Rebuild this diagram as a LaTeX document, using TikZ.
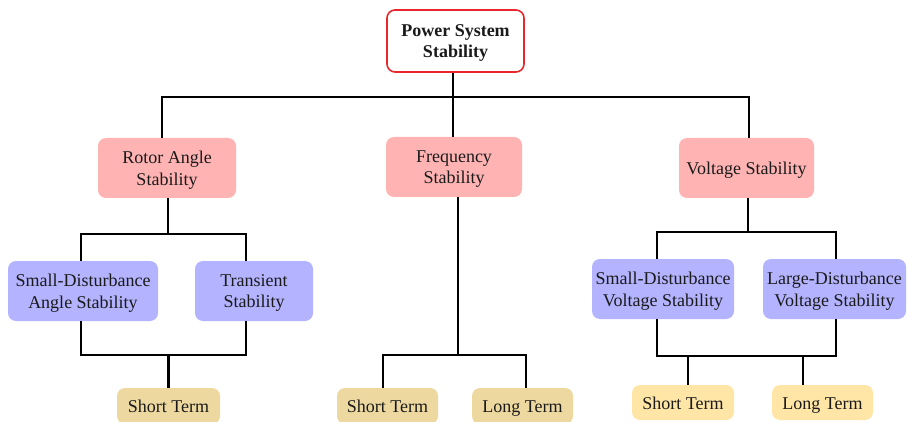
\documentclass[tikz,border=0pt]{standalone}
\usepackage{fontspec}
\setmainfont{Liberation Serif}
\definecolor{redfill}{HTML}{FFB3B3}
\definecolor{bluefill}{HTML}{B3B3FF}
\definecolor{tanfill}{HTML}{EDD9A0}
\definecolor{yelfill}{HTML}{FFE5A6}
\definecolor{topred}{HTML}{E8262C}
\definecolor{txt}{HTML}{1A1A1A}
\tikzset{
  box/.style={rectangle, rounded corners=8pt, inner sep=0pt, align=center, text=txt,
    font=\fontsize{18}{21.6}\selectfont, text depth=0pt},
  oneline/.style={text height=13pt, text depth=0pt},
  topbox/.style={box, draw=topred, line width=1.6pt, fill=white, font=\fontsize{18}{21.2}\selectfont\bfseries},
  redbox/.style={box, fill=redfill},
  bluebox/.style={box, fill=bluefill},
  tanbox/.style={box, oneline, fill=tanfill},
  yelbox/.style={box, oneline, fill=yelfill},
  wire/.style={line width=2.2pt, black}
}
\begin{document}
\begin{tikzpicture}[x=1pt,y=-1pt]
\useasboundingbox (0,0) rectangle (907,422);
\node[topbox, minimum width=137pt, minimum height=62pt] (top) at (455.5,41) {Power System\\Stability};
\node[redbox, minimum width=138pt, minimum height=60pt] (rot) at (167,168) {Rotor Angle\\Stability};
\node[redbox, minimum width=136pt, minimum height=60pt] (freq) at (454,167) {Frequency\\Stability};
\node[redbox, oneline, minimum width=135pt, minimum height=60pt] (volt) at (746.5,168) {Voltage Stability};
\node[bluebox, minimum width=150pt, minimum height=60pt] (sda) at (83,291) {Small-Disturbance\\Angle Stability};
\node[bluebox, minimum width=118pt, minimum height=60pt] (trans) at (254,291) {Transient\\Stability};
\node[bluebox, minimum width=142pt, minimum height=60pt] (sdv) at (663,289) {Small-Disturbance\\Voltage Stability};
\node[bluebox, minimum width=143pt, minimum height=60pt] (ldv) at (834.5,289) {Large-Disturbance\\Voltage Stability};
\node[tanbox, minimum width=103pt, minimum height=36pt] (st1) at (168.5,406) {Short Term};
\node[tanbox, minimum width=101pt, minimum height=36pt] (st2) at (387.5,406) {Short Term};
\node[tanbox, minimum width=101pt, minimum height=36pt] (lt2) at (522.5,406) {Long Term};
\node[yelbox, minimum width=102pt, minimum height=35pt] (st3) at (683,402.5) {Short Term};
\node[yelbox, minimum width=101pt, minimum height=35pt] (lt3) at (822.5,402.5) {Long Term};
% level 1
\coordinate (b1) at (453,97);
\draw[wire] ([xshift=-2.5pt]top.south) -- (b1);
\draw[wire] ([xshift=-5pt]rot.north) |- ([xshift=2.5pt]volt.north |- b1) -- ([xshift=2.5pt]volt.north);
\draw[wire] (b1) -- ([xshift=-1pt]freq.north);
% rotor angle
\coordinate (b2) at (168,234);
\draw[wire] ([xshift=1pt]rot.south) -- (b2);
\draw[wire] ([xshift=-2pt]sda.north) |- ([xshift=-8pt]trans.north |- b2) -- ([xshift=-8pt]trans.north);
\coordinate (b3) at (168.5,355);
\draw[wire] ([xshift=-2pt]sda.south) |- (b3) -| ([xshift=-8pt]trans.south);
\draw[wire] (b3) -- (st1.north);
% frequency
\coordinate (b4) at (458,355);
\draw[wire] ([xshift=4pt]freq.south) -- (b4);
\draw[wire] ([xshift=-4.5pt]st2.north) |- (b4) -| ([xshift=3.5pt]lt2.north);
% voltage
\coordinate (b5) at (748,232);
\draw[wire] ([xshift=1.5pt]volt.south) -- (b5);
\draw[wire] ([xshift=-6pt]sdv.north) |- ([xshift=1.5pt]ldv.north |- b5) -- ([xshift=1.5pt]ldv.north);
\coordinate (b6) at (688,356);
\coordinate (b7) at (803,356);
\draw[wire] ([xshift=-6pt]sdv.south) |- (b6) -- (b7) -| ([xshift=1.5pt]ldv.south);
\draw[wire] (b6) -- ([xshift=5pt]st3.north);
\draw[wire] (b7) -- ([xshift=-19.5pt]lt3.north);
\end{tikzpicture}
\end{document}
